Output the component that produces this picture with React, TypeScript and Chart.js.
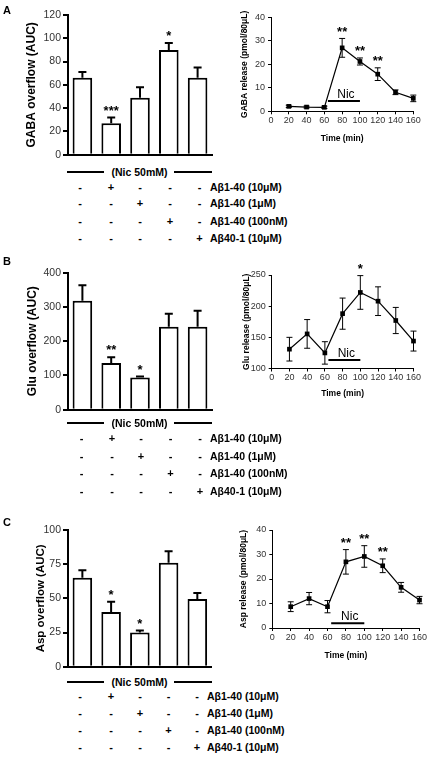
import React, { useEffect, useRef } from 'react';
import { Chart, registerables } from 'chart.js';

Chart.register(...registerables);

const FONT = "'Liberation Sans', Arial, Helvetica, sans-serif";

// ---------- Data: bar panels (AUC overflow) ----------
const treatmentGroups = ['Nic', 'Nic+Aβ1-40 10μM', 'Nic+Aβ1-40 1μM', 'Nic+Aβ1-40 100nM', 'Nic+Aβ40-1 10μM'];

const gabaOverflow = [66, 27, 49, 90, 66];
const gabaOverflowErr = [5, 5, 9, 6, 9];
const gabaOverflowSig = ['', '***', '', '*', ''];

const gluOverflow = [318, 136, 94, 242, 242];
const gluOverflowErr = [45, 17, 3, 38, 47];
const gluOverflowSig = ['', '**', '*', '', ''];

const aspOverflow = [65, 40, 25, 76, 49.5];
const aspOverflowErr = [5.5, 7.5, 1.5, 8.5, 4.5];
const aspOverflowSig = ['', '*', '*', '', ''];

const treatmentRows = ['Aβ1-40 (10μM)', 'Aβ1-40 (1μM)', 'Aβ1-40 (100nM)', 'Aβ40-1 (10μM)'];
const nicLabel = '(Nic 50mM)';

// ---------- Data: time-course panels ----------
const timePoints = [20, 40, 60, 80, 100, 120, 140, 160];

const gabaRelease = [2.1, 1.8, 1.7, 27, 21.2, 15.8, 8.1, 5.5];
const gabaReleaseErr = [0.5, 0.4, 0.5, 4, 1.5, 2.7, 1, 1.4];
const gabaReleaseSig = ['', '', '', '**', '**', '**', '', ''];

const gluRelease = [131, 155.5, 125, 188, 222, 208, 177, 144];
const gluReleaseErr = [19, 23, 18, 25, 27, 23, 21, 16];
const gluReleaseSig = ['', '', '', '', '*', '', '', ''];

const aspRelease = [8.7, 12, 8.7, 27, 29.2, 25.4, 16.6, 11.4];
const aspReleaseErr = [2, 2.5, 2.5, 5, 4.4, 2.8, 2, 1.5];
const aspReleaseSig = ['', '', '', '**', '**', '**', '', ''];

const nicStart = 64;
const nicEnd = 100;

// ---------- Plugins ----------
function errorBarPlugin(errs: number[], sigs: string[], cfg: { lw: number; cap: number; both: boolean; starSize: number; starGap: number }) {
  return {
    id: 'errorBars',
    afterDatasetsDraw(chart: any) {
      const ctx = chart.ctx;
      const ys = chart.scales.y;
      const meta = chart.getDatasetMeta(0);
      const raw = chart.data.datasets[0].data;
      ctx.save();
      ctx.strokeStyle = '#000';
      ctx.lineWidth = cfg.lw;
      meta.data.forEach((el: any, i: number) => {
        const v = typeof raw[i] === 'number' ? raw[i] : raw[i].y;
        const x = el.x;
        const yTop = ys.getPixelForValue(v + errs[i]);
        const yBot = ys.getPixelForValue(cfg.both ? v - errs[i] : v);
        ctx.beginPath();
        ctx.moveTo(x, yBot);
        ctx.lineTo(x, yTop);
        ctx.moveTo(x - cfg.cap / 2, yTop);
        ctx.lineTo(x + cfg.cap / 2, yTop);
        if (cfg.both) {
          ctx.moveTo(x - cfg.cap / 2, yBot);
          ctx.lineTo(x + cfg.cap / 2, yBot);
        }
        ctx.stroke();
        if (sigs[i]) {
          ctx.fillStyle = '#000';
          ctx.font = `bold ${cfg.starSize}px ${FONT}`;
          ctx.textAlign = 'center';
          ctx.textBaseline = 'alphabetic';
          ctx.fillText(sigs[i], x, yTop - cfg.starGap);
        }
      });
      ctx.restore();
    },
  };
}

function nicPlugin(level: number) {
  return {
    id: 'nicBar',
    afterDatasetsDraw(chart: any) {
      const ctx = chart.ctx;
      const xs = chart.scales.x;
      const ys = chart.scales.y;
      const x1 = xs.getPixelForValue(nicStart);
      const x2 = xs.getPixelForValue(nicEnd);
      const y = ys.getPixelForValue(level);
      ctx.save();
      ctx.strokeStyle = '#000';
      ctx.lineWidth = 2;
      ctx.beginPath();
      ctx.moveTo(x1, y);
      ctx.lineTo(x2, y);
      ctx.stroke();
      ctx.fillStyle = '#000';
      ctx.font = `12px ${FONT}`;
      ctx.textAlign = 'center';
      ctx.textBaseline = 'alphabetic';
      ctx.fillText('Nic', (x1 + x2) / 2 + 2, y - 3);
      ctx.restore();
    },
  };
}

// ---------- Config builders ----------
type BarSpec = {
  values: number[]; errs: number[]; sigs: string[]; max: number; step: number; title: string;
  padTop: number; padRight: number; padBottom: number; titlePad: number; titleSize: number;
};

function barConfig(p: BarSpec): any {
  return {
    type: 'bar',
    data: {
      labels: treatmentGroups,
      datasets: [{
        data: p.values,
        backgroundColor: '#ffffff',
        borderColor: '#000000',
        borderWidth: 2,
        barPercentage: 0.68,
        categoryPercentage: 1,
      }],
    },
    options: {
      responsive: false,
      animation: false,
      devicePixelRatio: 1,
      events: [],
      layout: { autoPadding: false, padding: { left: 0, top: p.padTop, right: p.padRight, bottom: p.padBottom } },
      plugins: { legend: { display: false }, tooltip: { enabled: false } },
      scales: {
        x: {
          type: 'category',
          grid: { display: false },
          ticks: { display: false },
          border: { display: true, color: '#000', width: 2 },
          afterFit: (s: any) => { s.height = 0; },
        },
        y: {
          min: 0, max: p.max,
          ticks: { stepSize: p.step, color: '#333', padding: 2, font: { family: FONT, size: 10.5 } },
          grid: { display: true, drawOnChartArea: false, drawTicks: true, tickLength: 5, color: '#000', lineWidth: 2 },
          border: { display: true, color: '#000', width: 2 },
          title: {
            display: true, text: p.title, color: '#000',
            font: { family: FONT, size: p.titleSize, weight: 'bold' },
            padding: { top: p.titlePad, bottom: 0 },
          },
          afterFit: (s: any) => { s.width = 68; },
        },
      },
    },
    plugins: [errorBarPlugin(p.errs, p.sigs, { lw: 2, cap: 8, both: false, starSize: 13, starGap: 2.8 })],
  };
}

type LineSpec = {
  values: number[]; errs: number[]; sigs: string[]; min: number; max: number; step: number; title: string;
  padTop: number; padRight: number; yW: number; xH: number; xTitlePad: number; yTitlePad: number; nicLevel: number;
};

function lineConfig(p: LineSpec): any {
  return {
    type: 'line',
    data: {
      datasets: [{
        data: timePoints.map((t, i) => ({ x: t, y: p.values[i] })),
        borderColor: '#000',
        borderWidth: 1.2,
        pointStyle: 'rect',
        pointRadius: 3.3,
        pointBackgroundColor: '#000',
        pointBorderColor: '#000',
        pointBorderWidth: 0,
        tension: 0,
        fill: false,
        clip: false,
      }],
    },
    options: {
      responsive: false,
      animation: false,
      devicePixelRatio: 1,
      events: [],
      layout: { autoPadding: false, padding: { left: 0, top: p.padTop, right: p.padRight, bottom: 0 } },
      plugins: { legend: { display: false }, tooltip: { enabled: false } },
      scales: {
        x: {
          type: 'linear', min: 0, max: 160,
          ticks: { stepSize: 20, autoSkip: false, maxRotation: 0, padding: 1, color: '#333', font: { family: FONT, size: 9 } },
          grid: { display: true, drawOnChartArea: false, drawTicks: true, tickLength: 3, color: '#000', lineWidth: 1 },
          border: { display: true, color: '#000', width: 1 },
          title: {
            display: true, text: 'Time (min)', color: '#000',
            font: { family: FONT, size: 8.5, weight: 'bold' },
            padding: { top: 0, bottom: p.xTitlePad },
          },
          afterFit: (s: any) => { s.height = p.xH; },
        },
        y: {
          min: p.min, max: p.max,
          ticks: { stepSize: p.step, padding: 3, color: '#333', font: { family: FONT, size: 9 } },
          grid: { display: true, drawOnChartArea: false, drawTicks: true, tickLength: 3, color: '#000', lineWidth: 1 },
          border: { display: true, color: '#000', width: 1 },
          title: {
            display: true, text: p.title, color: '#000',
            font: { family: FONT, size: 8.5, weight: 'bold' },
            padding: { top: p.yTitlePad, bottom: 0 },
          },
          afterFit: (s: any) => { s.width = p.yW; },
        },
      },
    },
    plugins: [
      errorBarPlugin(p.errs, p.sigs, { lw: 1, cap: 6, both: true, starSize: 13, starGap: 2.5 }),
      nicPlugin(p.nicLevel),
    ],
  };
}

// ---------- Components ----------
function ChartCanvas({ left, top, width, height, make }: { left: number; top: number; width: number; height: number; make: () => any }) {
  const ref = useRef<HTMLCanvasElement | null>(null);
  useEffect(() => {
    const chart = new Chart(ref.current as HTMLCanvasElement, make());
    return () => chart.destroy();
  }, []);
  return (
    <canvas
      ref={ref}
      width={width}
      height={height}
      style={{ position: 'absolute', left, top, width, height, display: 'block' }}
    />
  );
}

const textBase: React.CSSProperties = {
  position: 'absolute',
  fontFamily: FONT,
  fontWeight: 'bold',
  color: '#000',
  whiteSpace: 'nowrap',
};

function TreatmentTable({ nicY, rowsY, colsX, labelX }: { nicY: number; rowsY: number[]; colsX: number[]; labelX: number }) {
  const fs = 10.5;
  const lh = 12;
  return (
    <>
      <div style={{ position: 'absolute', left: 67, top: nicY - 1, width: 37, height: 2, background: '#000' }} />
      <div style={{ position: 'absolute', left: 174, top: nicY - 1, width: 38, height: 2, background: '#000' }} />
      <div style={{ ...textBase, fontSize: fs, lineHeight: `${lh}px`, left: 139.5, top: nicY - lh / 2, transform: 'translateX(-50%)' }}>{nicLabel}</div>
      {treatmentRows.map((label, r) => (
        <React.Fragment key={label}>
          {colsX.map((cx, c) => (
            <div key={c} style={{ ...textBase, fontSize: fs + 0.5, lineHeight: `${lh}px`, left: cx, top: rowsY[r] - lh / 2, transform: 'translateX(-50%)' }}>
              {c === r + 1 ? '+' : '-'}
            </div>
          ))}
          <div style={{ ...textBase, fontSize: fs, lineHeight: `${lh}px`, left: labelX, top: rowsY[r] - lh / 2 }}>{label}</div>
        </React.Fragment>
      ))}
    </>
  );
}

function PanelLetter({ letter, baseline }: { letter: string; baseline: number }) {
  return <div style={{ ...textBase, fontSize: 11, lineHeight: '11px', left: 3, top: baseline - 9.3 }}>{letter}</div>;
}

export default function App() {
  return (
    <div style={{ position: 'absolute', left: 0, top: 0, width: 430, height: 757, background: '#fff', overflow: 'hidden' }}>
      {/* Panel A */}
      <ChartCanvas left={0} top={0} width={215} height={163} make={() => barConfig({
        values: gabaOverflow, errs: gabaOverflowErr, sigs: gabaOverflowSig, max: 120, step: 20,
        title: 'GABA overflow (AUC)', padTop: 15, padRight: 3, padBottom: 3, titlePad: 24.3, titleSize: 12,
      })} />
      <ChartCanvas left={215} top={0} width={215} height={150} make={() => lineConfig({
        values: gabaRelease, errs: gabaReleaseErr, sigs: gabaReleaseSig, min: 0, max: 40, step: 10,
        title: 'GABA release (pmol/80μL)', padTop: 17.3, padRight: 16.7, yW: 56, xH: 38.7, xTitlePad: 6.4, yTitlePad: 24.9, nicLevel: 4.4,
      })} />

      {/* Panel B */}
      <ChartCanvas left={0} top={255} width={215} height={163} make={() => barConfig({
        values: gluOverflow, errs: gluOverflowErr, sigs: gluOverflowSig, max: 400, step: 100,
        title: 'Glu overflow (AUC)', padTop: 17.7, padRight: 3, padBottom: 3, titlePad: 25.3, titleSize: 12,
      })} />
      <ChartCanvas left={215} top={255} width={215} height={150} make={() => lineConfig({
        values: gluRelease, errs: gluReleaseErr, sigs: gluReleaseSig, min: 100, max: 250, step: 50,
        title: 'Glu release (pmol/80μL)', padTop: 20, padRight: 16.5, yW: 56.7, xH: 36.5, xTitlePad: 5.9, yTitlePad: 26.6, nicLevel: 113.8,
      })} />

      {/* Panel C */}
      <ChartCanvas left={0} top={512} width={215} height={163} make={() => barConfig({
        values: aspOverflow, errs: aspOverflowErr, sigs: aspOverflowSig, max: 100, step: 25,
        title: 'Asp overflow (AUC)', padTop: 18, padRight: 3.3, padBottom: 2.7, titlePad: 33.6, titleSize: 11.5,
      })} />
      <ChartCanvas left={215} top={510} width={215} height={160} make={() => lineConfig({
        values: aspRelease, errs: aspReleaseErr, sigs: aspReleaseSig, min: 0, max: 40, step: 10,
        title: 'Asp release (pmol/80μL)', padTop: 20, padRight: 10.5, yW: 57.3, xH: 42, xTitlePad: 8.9, yTitlePad: 23.2, nicLevel: 1.9,
      })} />

      <PanelLetter letter="A" baseline={14} />
      <PanelLetter letter="B" baseline={265} />
      <PanelLetter letter="C" baseline={526} />

      <TreatmentTable nicY={171.7} rowsY={[186.7, 203.3, 220.7, 237.5]} colsX={[80, 111, 140, 170, 199.5]} labelX={210} />
      <TreatmentTable nicY={423.3} rowsY={[438.3, 455.7, 473.3, 490.7]} colsX={[81.5, 112, 141, 170.5, 200]} labelX={210} />
      <TreatmentTable nicY={681.5} rowsY={[696, 712.7, 730, 747.3]} colsX={[80, 111, 140, 168.5, 197]} labelX={207} />
    </div>
  );
}
